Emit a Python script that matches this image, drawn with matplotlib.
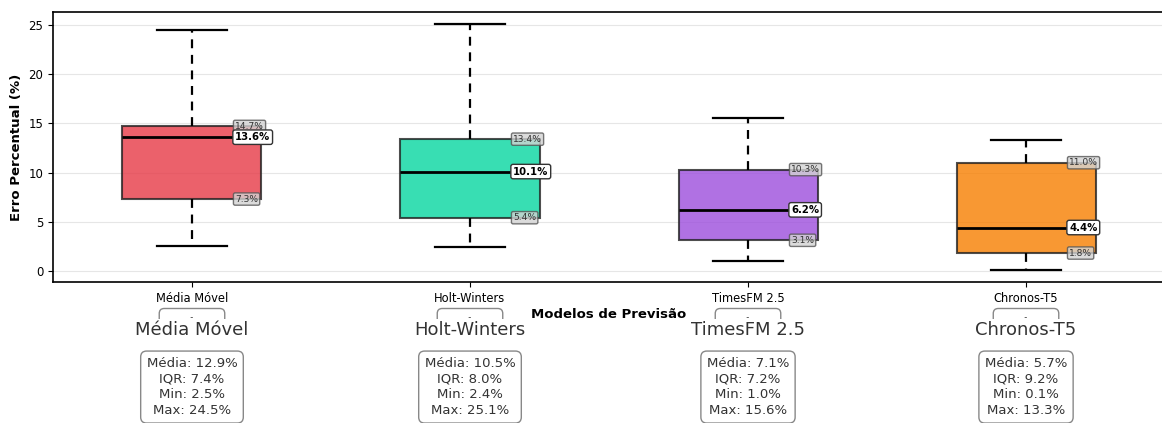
import matplotlib.pyplot as plt
from matplotlib.transforms import blended_transform_factory

MODELS = ["Média Móvel", "Holt-Winters", "TimesFM 2.5", "Chronos-T5"]
WHIS_LO = [2.5, 2.4, 1.0, 0.1]
Q1 = [7.3, 5.4, 3.1, 1.8]
MEDIAN = [13.6, 10.1, 6.2, 4.4]
Q3 = [14.7, 13.4, 10.3, 11.0]
WHIS_HI = [24.5, 25.1, 15.6, 13.3]
MEAN = [12.9, 10.5, 7.1, 5.7]
IQR = [7.4, 8.0, 7.2, 9.2]
COLORS = ["#e63946", "#06d6a0", "#9d4edd", "#f77f00"]


def main():
    fig = plt.figure(figsize=(11.62, 4.23), dpi=100)
    ax = fig.add_axes([0.0456, 0.3333, 0.957, 0.6383])

    stats = [dict(label=m, whislo=lo, q1=a, med=md, q3=b, whishi=hi, fliers=[])
             for m, lo, a, md, b, hi in zip(MODELS, WHIS_LO, Q1, MEDIAN, Q3, WHIS_HI)]
    pos = list(range(1, len(MODELS) + 1))
    bp = ax.bxp(stats, positions=pos, widths=0.5, patch_artist=True, showfliers=False,
                boxprops=dict(edgecolor="#222222", linewidth=1.5),
                medianprops=dict(color="black", linewidth=2),
                whiskerprops=dict(color="black", linewidth=1.6, linestyle=(0, (4, 3))),
                capprops=dict(color="black", linewidth=1.6))
    for patch, c in zip(bp["boxes"], COLORS):
        patch.set_facecolor(c)
        patch.set_alpha(0.8)
        patch.set_edgecolor("#222222")

    for p, a, md, b in zip(pos, Q1, MEDIAN, Q3):
        for v in (a, b):
            ax.text(p + 0.155, v, f"{v:.1f}%", fontsize=6.6, va="center", ha="left",
                    color="#333333",
                    bbox=dict(boxstyle="round,pad=0.18", facecolor="lightgray",
                              edgecolor="#555555", alpha=0.8))
        ax.text(p + 0.155, md, f"{md:.1f}%", fontsize=7.3, fontweight="bold",
                va="center", ha="left",
                bbox=dict(boxstyle="round,pad=0.22", facecolor="white",
                          edgecolor="#333333"))

    ax.set_xlim(0.5, 4.5)
    ax.set_xticks(pos)
    ax.set_xticklabels(MODELS, fontsize=8.3)
    ax.tick_params(axis="y", labelsize=8.5)
    ax.set_ylabel("Erro Percentual (%)", fontsize=9.5, fontweight="bold")
    ax.set_xlabel("Modelos de Previsão", fontsize=9.5, fontweight="bold", labelpad=2)
    ax.yaxis.grid(True, color="#e6e6e6", linewidth=0.8)
    ax.set_axisbelow(True)
    for s in ax.spines.values():
        s.set_linewidth(1.2)
    ax.spines["right"].set_visible(False)

    tr = blended_transform_factory(ax.transData, fig.transFigure)
    for p, m, mu, iq, lo, hi in zip(pos, MODELS, MEAN, IQR, WHIS_LO, WHIS_HI):
        ax.text(p, 1 - 318 / 423, "          -          ", fontsize=6,
                ha="center", va="center", transform=tr, clip_on=False, color="#333333",
                bbox=dict(boxstyle="round,pad=0.6", facecolor="white",
                          edgecolor="#888888"))
        ax.text(p, 1 - 330 / 423, m, fontsize=13, ha="center", va="center",
                transform=tr, clip_on=False, color="#333333",
                bbox=dict(boxstyle="square,pad=0.1", facecolor="white",
                          edgecolor="none"))
        txt = f"Média: {mu:.1f}%\nIQR: {iq:.1f}%\nMin: {lo:.1f}%\nMax: {hi:.1f}%"
        ax.text(p, 1 - 357 / 423, txt, fontsize=9.5, ha="center", va="top",
                linespacing=1.27, transform=tr, clip_on=False, color="#333333",
                bbox=dict(boxstyle="round,pad=0.45", facecolor="white",
                          edgecolor="#888888"))

    fig.savefig("out.png", dpi=100)


if __name__ == "__main__":
    main()
